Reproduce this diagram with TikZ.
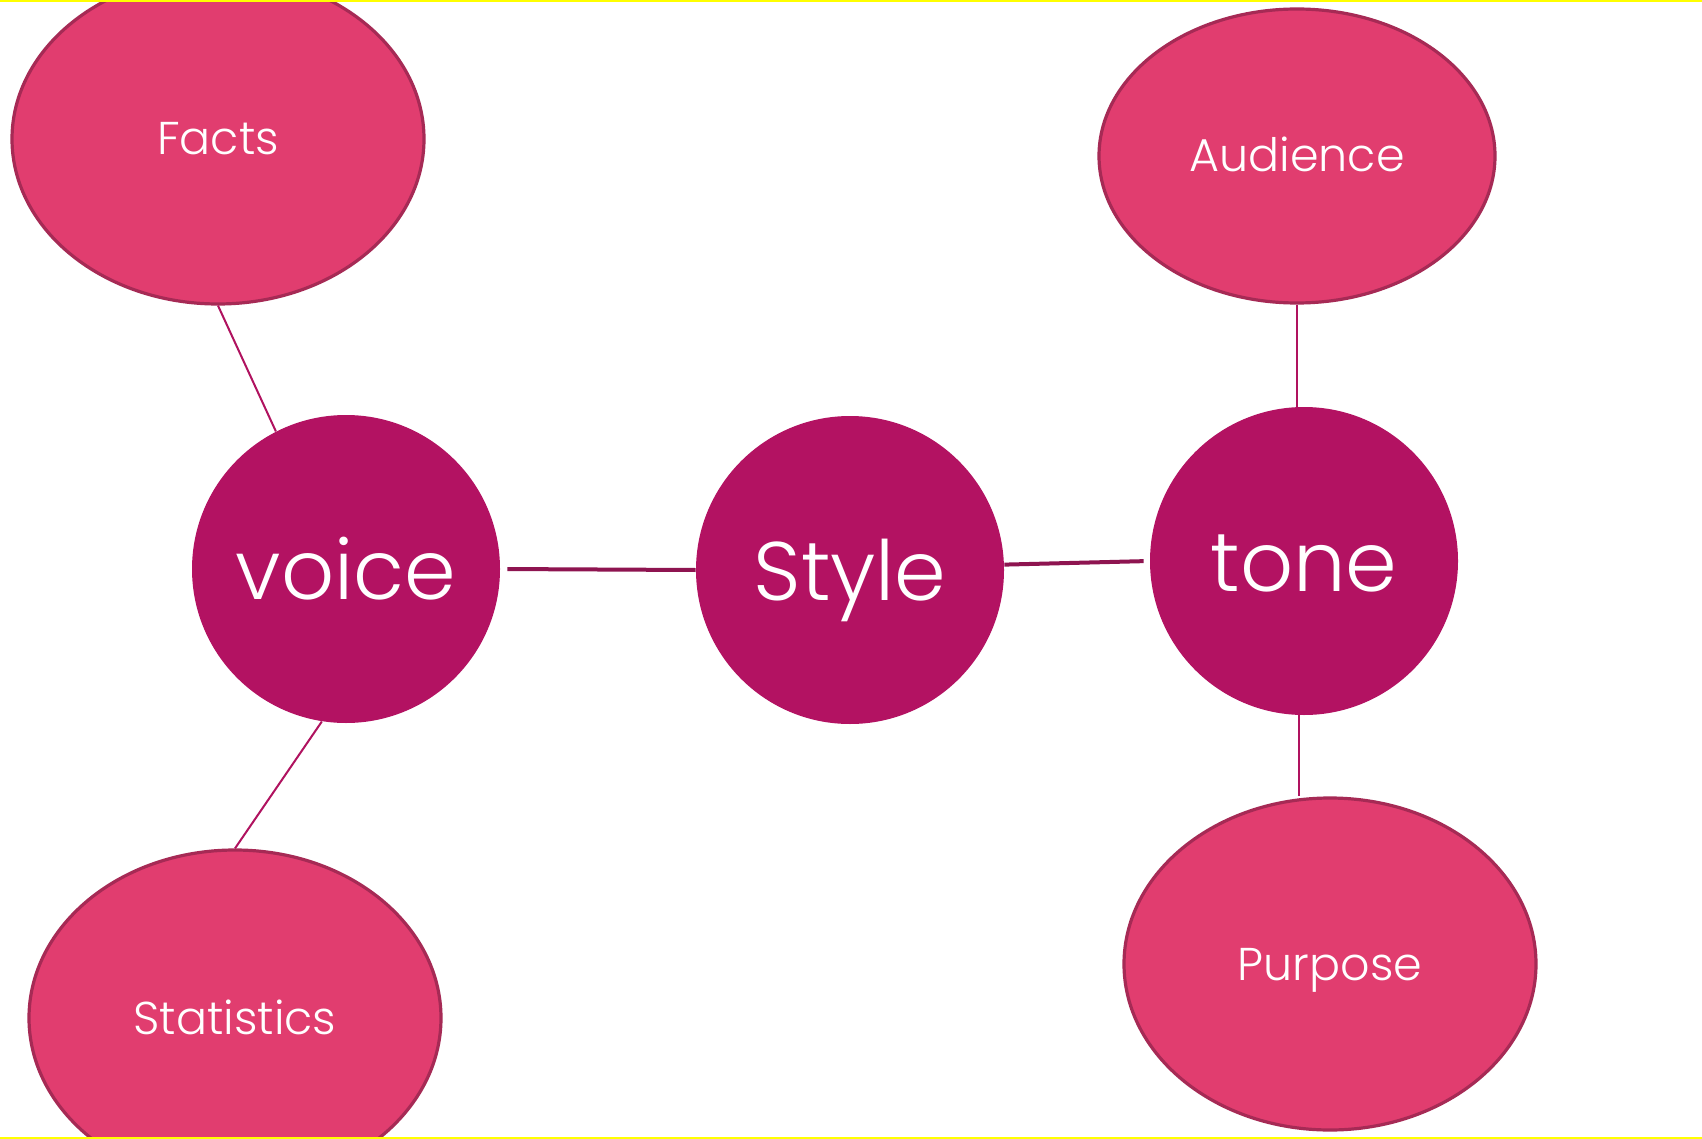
\documentclass[tikz,border=0pt]{standalone}
\usepackage{fontspec}
\setmainfont{Poppins Light}
\usetikzlibrary{shapes.geometric}
\definecolor{pinkfill}{HTML}{E13D6F}
\definecolor{pinkedge}{HTML}{A62A55}
\definecolor{hubfill}{HTML}{B31262}
\definecolor{thinline}{HTML}{B0125F}
\definecolor{thickline}{HTML}{8E1450}
\definecolor{frameyellow}{HTML}{FFFF00}
\tikzset{
  leaf/.style={ellipse, fill=pinkfill, draw=pinkedge, line width=1.6pt, inner sep=0pt,
    text=white, font=\fontsize{23}{27}\selectfont, text height=16pt, text depth=0pt},
  hub/.style={circle, fill=hubfill, draw=none, minimum size=154pt, inner sep=0pt,
    text=white, font=\fontsize{41.5}{48}\selectfont, text height=30pt, text depth=0pt},
  thinlink/.style={draw=thinline, line width=1pt},
  thicklink/.style={draw=thickline, line width=2pt}
}
\begin{document}
\begin{tikzpicture}[x=0.5pt, y=-0.5pt]
\useasboundingbox (0,0) rectangle (1702,1139);
\fill[white] (0,0) rectangle (1702,1139);
% nodes
\node[leaf, minimum width=206pt, minimum height=165pt] (facts) at (218,139) {Facts};
\node[leaf, minimum width=198pt, minimum height=147pt] (audience) at (1297,156) {Audience};
\node[leaf, minimum width=206pt, minimum height=168pt] (statistics) at (235,1018) {Statistics};
\node[leaf, minimum width=206pt, minimum height=166pt] (purpose) at (1330,964) {Purpose};
\node[hub] (voice) at (346,569) {voice};
\node[hub] (style) at (850,570) {Style};
\node[hub] (tone) at (1304,561) {tone};
% connectors
\draw[thinlink] (facts.south) -- (voice.117);
\draw[thinlink] (voice.-99) -- (statistics.north);
\draw[thicklink, shorten <=3.5pt] (voice.east) -- (style.west);
\draw[thicklink, shorten >=3pt] (style.2) -- (tone.west);
\draw[thinlink] (audience.south) -- (audience.south |- tone.north);
\draw[thinlink] (tone.-92) -- (tone.-92 |- purpose.north);
% frame lines
\draw[frameyellow, line width=1pt] (0,1) -- (1702,1);
\draw[frameyellow, line width=1pt] (0,1138) -- (1702,1138);
\end{tikzpicture}
\end{document}
